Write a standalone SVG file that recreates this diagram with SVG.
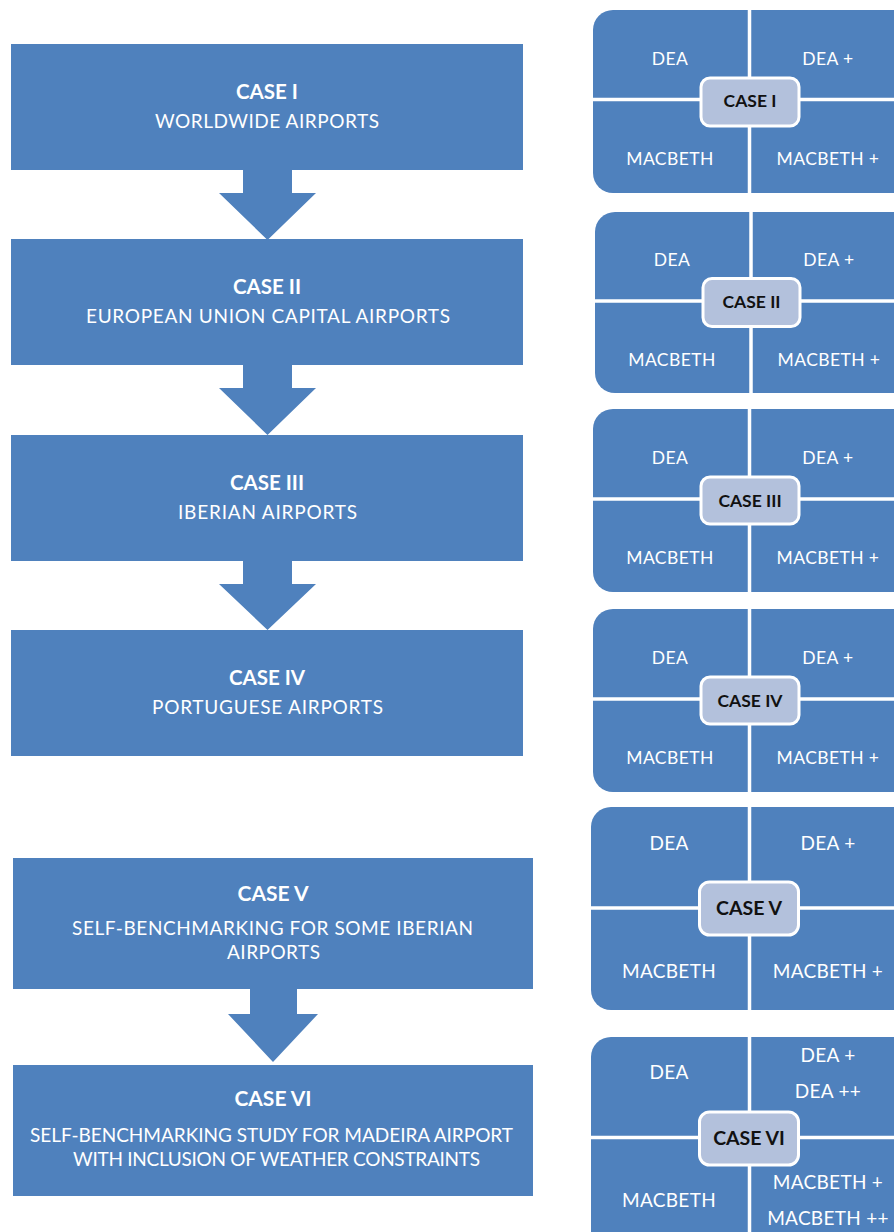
<svg xmlns="http://www.w3.org/2000/svg" width="894" height="1232" viewBox="0 0 894 1232">
<style>
.blk{fill:#4F81BD}
.t{font-family:Lato,"Open Sans",sans-serif;fill:#fff;text-anchor:middle}
.h{font-weight:bold;font-size:20.5px}
.h5{font-size:21px}
.s{font-size:19px}
.q{font-size:17.5px;letter-spacing:0.4px}
.q5{font-size:19px;letter-spacing:0.3px}
.c{fill:#B3C1DC;stroke:#fff;stroke-width:3}
.cl{font-family:Lato,"Open Sans",sans-serif;fill:#111;font-weight:bold;font-size:17.5px;text-anchor:middle}
.cl5{font-size:19.5px}
.dv{stroke:#fff;stroke-width:3.5;fill:none}
</style>
<rect width="894" height="1232" fill="#fff"/>
<g id="connectors" class="blk">
<polygon points="243,169 292,169 292,193 316,193 267.5,240 219,193 243,193"/>
<polygon points="243,364 292,364 292,388 316,388 267.5,435 219,388 243,388"/>
<polygon points="243,560 292,560 292,584 316,584 267.5,630 219,584 243,584"/>
<polygon points="250,988 297,988 297,1014 318,1014 273,1062 228,1014 250,1014"/>
</g>
<g id="case1">
<rect class="blk" x="11" y="44" width="512" height="126"/>
<text class="t h" x="267" y="99">CASE I</text>
<text class="t s" x="267" y="128" textLength="224">WORLDWIDE AIRPORTS</text>
</g>
<g id="case2">
<rect class="blk" x="11" y="239" width="512" height="126"/>
<text class="t h" x="267" y="294">CASE II</text>
<text class="t s" x="268" y="323" textLength="364">EUROPEAN UNION CAPITAL AIRPORTS</text>
</g>
<g id="case3">
<rect class="blk" x="11" y="435" width="512" height="126"/>
<text class="t h" x="267" y="490">CASE III</text>
<text class="t s" x="267.5" y="519" textLength="179">IBERIAN AIRPORTS</text>
</g>
<g id="case4">
<rect class="blk" x="11" y="630" width="512" height="126"/>
<text class="t h" x="267" y="685">CASE IV</text>
<text class="t s" x="267.5" y="714" textLength="231">PORTUGUESE AIRPORTS</text>
</g>
<g id="case5">
<rect class="blk" x="13" y="858" width="520" height="131"/>
<text class="t h h5" x="273" y="901">CASE V</text>
<text class="t s" x="272.5" y="935" textLength="401">SELF-BENCHMARKING FOR SOME IBERIAN</text>
<text class="t s" x="273.5" y="959" textLength="93">AIRPORTS</text>
</g>
<g id="case6">
<rect class="blk" x="13" y="1065" width="520" height="131"/>
<text class="t h h5" x="273" y="1106">CASE VI</text>
<text class="t s" x="271.5" y="1142" textLength="483">SELF-BENCHMARKING STUDY FOR MADEIRA AIRPORT</text>
<text class="t s" x="276.5" y="1166" textLength="407">WITH INCLUSION OF WEATHER CONSTRAINTS</text>
</g>
<g id="grid1">
<rect class="blk" x="593" y="10" width="340" height="183" rx="20"/>
<path class="dv" d="M749.5,10V193M593,99.5H894"/>
<text class="t q" x="670" y="65">DEA</text>
<text class="t q" x="828" y="65">DEA +</text>
<text class="t q" x="670" y="165">MACBETH</text>
<text class="t q" x="828" y="165">MACBETH +</text>
<rect class="c" x="701" y="78" width="98" height="48" rx="9"/>
<text class="cl" x="750" y="107">CASE I</text>
</g>
<g id="grid2">
<rect class="blk" x="595" y="212" width="340" height="181" rx="20"/>
<path class="dv" d="M751,212V393M595,301H894"/>
<text class="t q" x="672" y="266">DEA</text>
<text class="t q" x="829" y="266">DEA +</text>
<text class="t q" x="672" y="366">MACBETH</text>
<text class="t q" x="829" y="366">MACBETH +</text>
<rect class="c" x="703" y="278.5" width="97" height="48" rx="9"/>
<text class="cl" x="751.5" y="308">CASE II</text>
</g>
<g id="grid3">
<rect class="blk" x="593" y="409" width="340" height="183" rx="20"/>
<path class="dv" d="M749.5,409V592M593,499H894"/>
<text class="t q" x="670" y="464">DEA</text>
<text class="t q" x="828" y="464">DEA +</text>
<text class="t q" x="670" y="564">MACBETH</text>
<text class="t q" x="828" y="564">MACBETH +</text>
<rect class="c" x="701" y="477" width="98" height="47" rx="9"/>
<text class="cl" x="750" y="506.5">CASE III</text>
</g>
<g id="grid4">
<rect class="blk" x="593" y="609" width="340" height="183" rx="20"/>
<path class="dv" d="M749.5,609V792M593,699H894"/>
<text class="t q" x="670" y="664">DEA</text>
<text class="t q" x="828" y="664">DEA +</text>
<text class="t q" x="670" y="764">MACBETH</text>
<text class="t q" x="828" y="764">MACBETH +</text>
<rect class="c" x="701" y="677" width="98" height="47" rx="9"/>
<text class="cl" x="750" y="706.5">CASE IV</text>
</g>
<g id="grid5">
<rect class="blk" x="591" y="807" width="340" height="203" rx="20"/>
<path class="dv" d="M749.5,807V1010M591,908H894"/>
<text class="t q5" x="669" y="850">DEA</text>
<text class="t q5" x="828" y="850">DEA +</text>
<text class="t q5" x="669" y="978">MACBETH</text>
<text class="t q5" x="828" y="978">MACBETH +</text>
<rect class="c" x="699.5" y="882" width="99" height="53" rx="10"/>
<text class="cl cl5" x="749" y="915">CASE V</text>
</g>
<g id="grid6">
<rect class="blk" x="591" y="1037" width="340" height="220" rx="20"/>
<path class="dv" d="M749.5,1037V1232M591,1137.5H894"/>
<text class="t q5" x="669" y="1079">DEA</text>
<text class="t q5" x="828" y="1062">DEA +</text>
<text class="t q5" x="828" y="1098">DEA ++</text>
<text class="t q5" x="669" y="1207">MACBETH</text>
<text class="t q5" x="828" y="1189">MACBETH +</text>
<text class="t q5" x="828" y="1225">MACBETH ++</text>
<rect class="c" x="699.5" y="1112" width="99" height="53" rx="10"/>
<text class="cl cl5" x="749" y="1145">CASE VI</text>
</g>
</svg>
